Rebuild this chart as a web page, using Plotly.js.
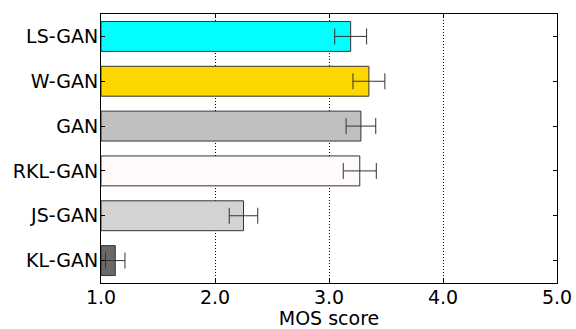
<!DOCTYPE html>
<html>
<head>
<meta charset="utf-8">
<script src="https://cdn.plot.ly/plotly-3.0.1.min.js"></script>
<style>html,body{margin:0;padding:0;background:#fff;}#chart{width:576px;height:329px;}</style>
</head>
<body>
<div id="chart"></div>
<script>
const categories = ["LS-GAN", "W-GAN", "GAN", "RKL-GAN", "JS-GAN", "KL-GAN"];
const mosScores = [3.19, 3.35, 3.28, 3.27, 2.25, 1.125];
const mosErrors = [0.14, 0.14, 0.13, 0.145, 0.125, 0.085];
const barColors = ["#00FFFF", "#FFD700", "#C0C0C0", "#FFFAFA", "#D3D3D3", "#696969"];
const xTickValues = [1, 2, 3, 4, 5];
const xTickLabels = ["1.0", "2.0", "3.0", "4.0", "5.0"];
const axisBase = 1;

const trace = {
  type: "bar",
  orientation: "h",
  y: categories,
  x: mosScores.map(v => v - axisBase),
  base: axisBase,
  width: 0.667,
  marker: { color: barColors, line: { color: "#333333", width: 1 } },
  error_x: { type: "data", array: mosErrors, visible: true, color: "#333333", thickness: 1, width: 8 },
  hoverinfo: "skip"
};

const fontFam = "DejaVu Sans, sans-serif";
const layout = {
  width: 576, height: 329,
  margin: { l: 101, r: 19, t: 14, b: 46 },
  paper_bgcolor: "#fff", plot_bgcolor: "#fff",
  showlegend: false,
  font: { family: fontFam, size: 19, color: "#000" },
  xaxis: {
    range: [1, 5],
    tickvals: xTickValues, ticktext: xTickLabels,
    ticks: "inside", ticklen: 4, tickcolor: "#000", tickwidth: 1,
    ticklabelstandoff: -3,
    showline: true, linecolor: "#000", linewidth: 1, mirror: "ticks",
    showgrid: true, gridcolor: "#000", gridwidth: 1, griddash: "1px,2px",
    zeroline: false,
    tickfont: { family: fontFam, size: 19, color: "#000" },
    title: { text: "MOS score", font: { family: fontFam, size: 19, color: "#000" } }
  },
  yaxis: {
    type: "category",
    categoryorder: "array", categoryarray: categories,
    range: [5.5, -0.5],
    ticks: "inside", ticklen: 4, tickcolor: "#000", tickwidth: 1,
    ticklabelstandoff: -2,
    showline: true, linecolor: "#000", linewidth: 1, mirror: "ticks",
    showgrid: false, zeroline: false,
    tickfont: { family: fontFam, size: 19, color: "#000" }
  }
};

Plotly.newPlot("chart", [trace], layout, { displayModeBar: false, staticPlot: true });
</script>
</body>
</html>
